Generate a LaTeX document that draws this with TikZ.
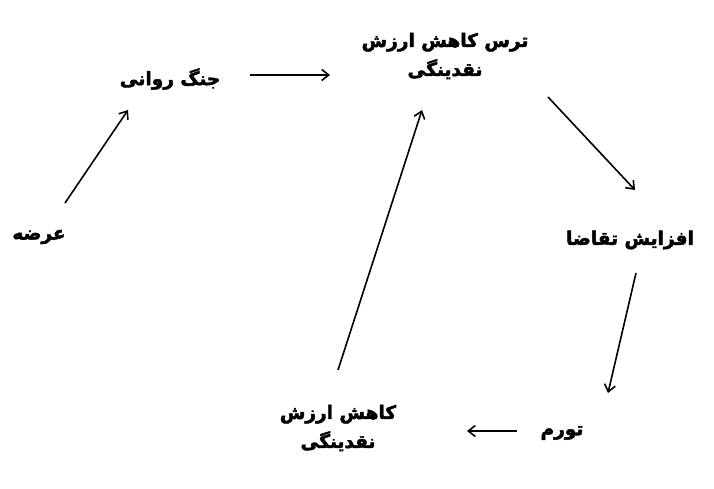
\documentclass[tikz,border=0pt]{standalone}
\usepackage{fontspec}
\newfontfamily\farsi[Script=Arabic, FakeBold=2.5]{DejaVu Sans}
\TeXXeTstate=1
\usetikzlibrary{arrows.meta}

\begin{document}
\begin{tikzpicture}[x = 1pt, y = -1pt]
\tikzset{LabelStyle/.style = {inner sep = 2pt,
                              align = center,
                              font = \farsi\bfseries\fontsize{18.5}{29}\selectfont},
         post/.style = {-{Straight Barb[length = 7pt, width = 11pt, line width = 1.6pt]},
                        line width = 1.6pt}}
\useasboundingbox (0, 0) rectangle (714, 489);
\node[LabelStyle] (arz)   at (39, 237)  {\beginR عرضه\endR};
\node[LabelStyle] (jang)  at (170, 79)  {\beginR جنگ روانی\endR};
\node[LabelStyle] (tars)  at (445, 56)  {\beginR ترس کاهش ارزش\endR\\\beginR نقدینگی\endR};
\node[LabelStyle] (taq)   at (630, 240) {\beginR افزایش تقاضا\endR};
\node[LabelStyle] (tavr)  at (562, 433) {\beginR تورم\endR};
\node[LabelStyle] (kahesh) at (338, 428) {\beginR کاهش ارزش\endR\\\beginR نقدینگی\endR};
\draw[post] ([shift = {(26, -34)}]arz.center) -- ([shift = {(-42, 31)}]jang.center);
\draw[post] ([shift = {(80, -4)}]jang.center) -- ([shift = {(-115, 19)}]tars.center);
\draw[post] ([shift = {(103, 41)}]tars.center) -- ([shift = {(5, -50)}]taq.center);
\draw[post] ([shift = {(6, 33)}]taq.center) -- ([shift = {(46, -40)}]tavr.center);
\draw[post] ([shift = {(-45, -2)}]tavr.center) -- ([shift = {(129, 3)}]kahesh.center);
\draw[post] ([shift = {(0, -58)}]kahesh.center) -- ([shift = {(-23, 54)}]tars.center);
\end{tikzpicture}
\end{document}
